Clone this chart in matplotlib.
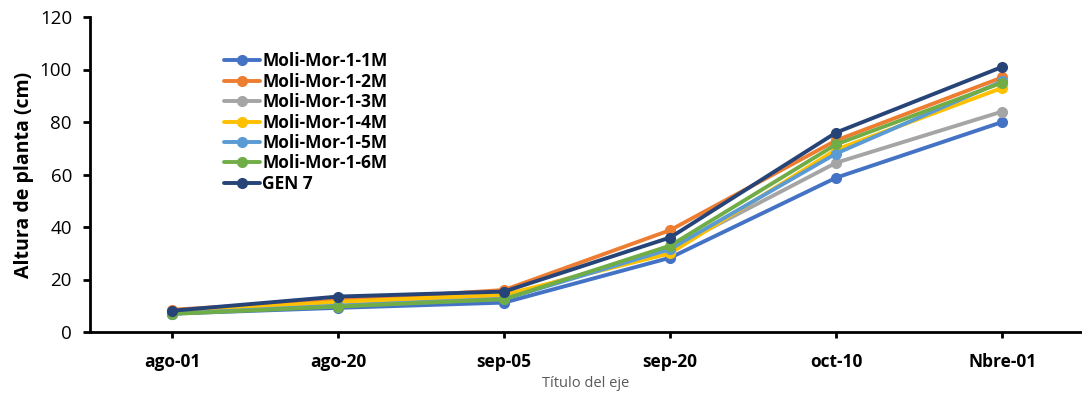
import matplotlib
matplotlib.use("Agg")
import matplotlib.pyplot as plt

categories = ["ago-01", "ago-20", "sep-05", "sep-20", "oct-10", "Nbre-01"]
series_names = ["Moli-Mor-1-1M", "Moli-Mor-1-2M", "Moli-Mor-1-3M", "Moli-Mor-1-4M",
                "Moli-Mor-1-5M", "Moli-Mor-1-6M", "GEN 7"]
m1 = [7.0, 9.2, 11.2, 28.3, 58.8, 80.0]
m2 = [8.5, 12.0, 16.0, 38.8, 73.0, 97.0]
m3 = [7.2, 10.0, 13.5, 31.5, 64.5, 84.0]
m4 = [7.5, 11.5, 14.2, 30.0, 69.5, 93.0]
m5 = [7.0, 10.0, 12.5, 31.6, 68.0, 95.5]
m6 = [6.9, 9.7, 12.5, 32.9, 71.5, 95.0]
gen7 = [8.1, 13.5, 15.4, 36.0, 76.0, 101.0]
colors = ["#4472C4", "#ED7D31", "#A5A5A5", "#FFC000", "#5B9BD5", "#70AD47", "#264478"]

plt.rcParams['font.family'] = ['Open Sans', 'DejaVu Sans']

fig = plt.figure(figsize=(10.82, 3.94), dpi=100)
ax = fig.add_axes([90/1082, 62/394, 1 - 90/1082, 315/394])

x = list(range(len(categories)))
for name, vals, c in zip(series_names, [m1, m2, m3, m4, m5, m6, gen7], colors):
    ax.plot(x, vals, color=c, lw=2.8, marker='o', ms=7, label=name,
            solid_capstyle='round')

ax.set_ylim(0, 120)
ax.set_yticks(range(0, 121, 20))
ax.set_xlim(-0.494, 5.48)
ax.set_xticks(x)
ax.set_xticklabels(categories, fontweight='bold', fontsize=12.5)
ax.tick_params(axis='y', labelsize=13.5, direction='out', length=5, width=2, pad=8)
ax.tick_params(axis='x', direction='out', length=4, width=2, pad=11)
for s in ['top', 'right']:
    ax.spines[s].set_visible(False)
for s in ['left', 'bottom']:
    ax.spines[s].set_linewidth(2)
    ax.spines[s].set_color('black')

ax.set_ylabel("Altura de planta (cm)", fontweight='bold', fontsize=14, labelpad=4)
ax.set_xlabel("Título del eje", fontsize=10.5, color='#595959', labelpad=4)

leg = ax.legend(loc='upper left', bbox_to_anchor=(0.128, 0.91), frameon=False,
                prop={'weight': 'bold', 'size': 12.5}, handlelength=2.1,
                handletextpad=0.1, labelspacing=0.14, borderaxespad=0)

fig.savefig("out.png", dpi=100)
